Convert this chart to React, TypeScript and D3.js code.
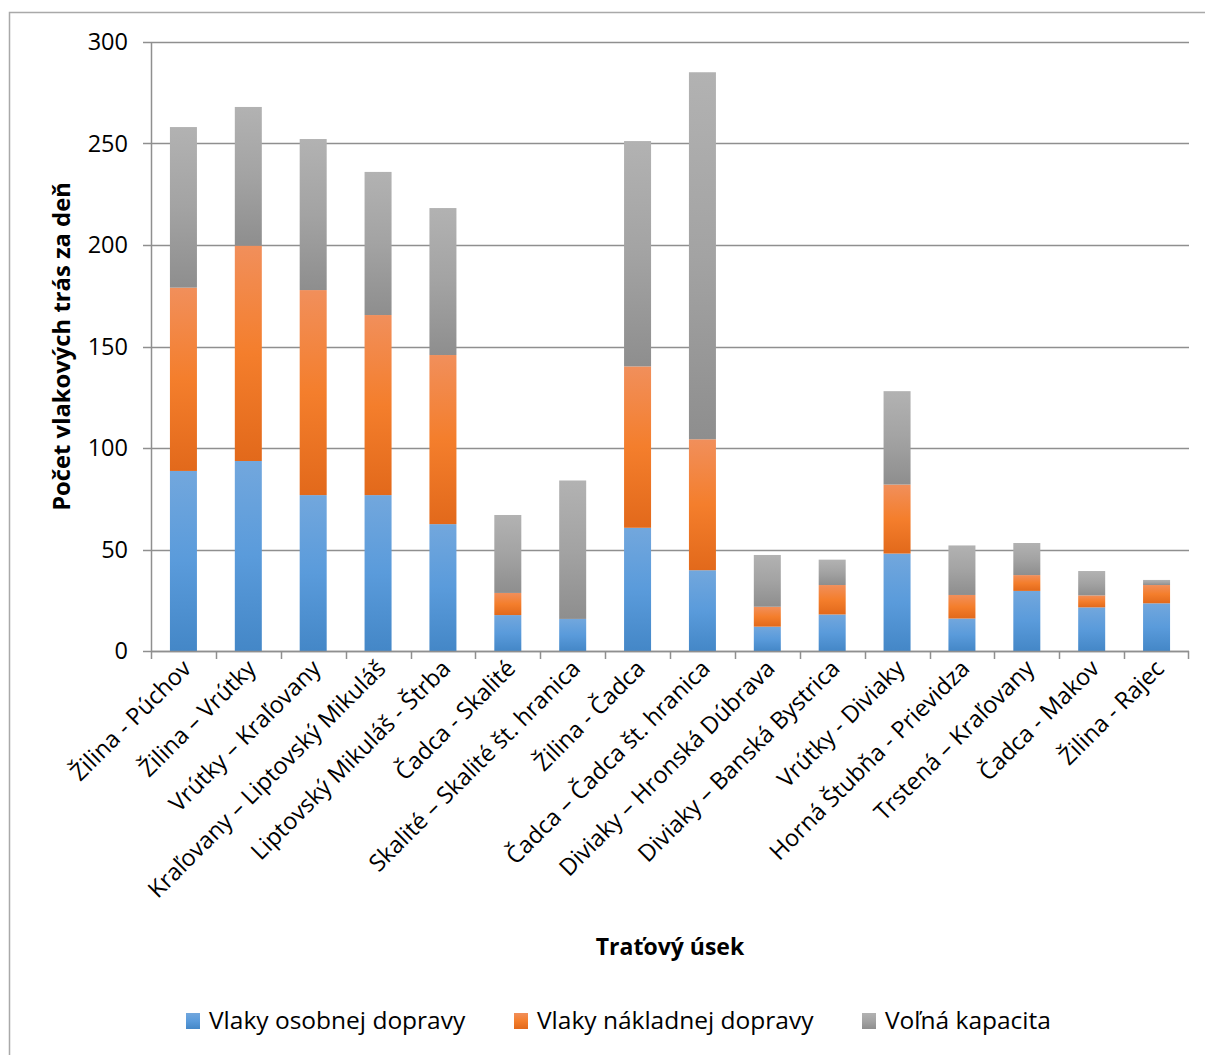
import React from "react";
import * as d3 from "d3";

const categories = [
  "Žilina - Púchov",
  "Žilina – Vrútky",
  "Vrútky – Kraľovany",
  "Kraľovany – Liptovský Mikuláš",
  "Liptovský Mikuláš - Štrba",
  "Čadca - Skalité",
  "Skalité – Skalité št. hranica",
  "Žilina - Čadca",
  "Čadca – Čadca št. hranica",
  "Diviaky – Hronská Dúbrava",
  "Diviaky – Banská Bystrica",
  "Vrútky - Diviaky",
  "Horná Štubňa - Prievidza",
  "Trstená – Kraľovany",
  "Čadca - Makov",
  "Žilina - Rajec",
];

const passenger = [88.7, 93.6, 76.8, 76.8, 62.5, 17.7, 15.8, 60.7, 39.8, 12, 18, 48, 16, 29.6, 21.5, 23.5];
const freight = [90.3, 106.1, 101, 88.7, 83.3, 10.9, 0, 79.5, 64.5, 9.8, 14.5, 34, 11.6, 7.8, 5.9, 9];
const free = [79.1, 68.3, 74.4, 70.5, 72.4, 38.4, 68.2, 111, 180.8, 25.5, 12.5, 46, 24.4, 15.8, 12, 2.5];

const seriesNames = ["Vlaky osobnej dopravy", "Vlaky nákladnej dopravy", "Voľná kapacita"];
const yTicks = [0, 50, 100, 150, 200, 250, 300];

const FONT = "'Open Sans', sans-serif";

export default function App() {
  const W = 1205;
  const H = 1055;
  const left = 151;
  const right = 1189;
  const top = 42;
  const bottom = 651;

  const rows = categories.map((c, i) => ({
    cat: c,
    s0: passenger[i],
    s1: freight[i],
    s2: free[i],
  }));
  const stack = d3.stack<any>().keys(["s0", "s1", "s2"]);
  const stacked = stack(rows);

  const y = d3.scaleLinear().domain([0, 300]).range([bottom, top]);
  const step = (right - left) / categories.length;
  const p = 1 - 27 / step;
  const x = d3
    .scaleBand()
    .domain(categories)
    .range([left, right])
    .paddingInner(p)
    .paddingOuter(p / 2);
  const xb = d3.scaleBand().domain(categories).range([left, right]).padding(0);

  const gradIds = ["gBlue", "gOrange", "gGray"];
  const legendX = [186, 514, 862];

  return (
    <svg
      width={W}
      height={H}
      style={{ position: "absolute", left: 0, top: 0, background: "#fff" }}
      fontFamily={FONT}
    >
      <defs>
        <linearGradient id="gBlue" x1="0" y1="0" x2="0" y2="1">
          <stop offset="0" stopColor="#72a7dd" />
          <stop offset="0.5" stopColor="#5a9bdb" />
          <stop offset="1" stopColor="#4487c7" />
        </linearGradient>
        <linearGradient id="gOrange" x1="0" y1="0" x2="0" y2="1">
          <stop offset="0" stopColor="#f18f5b" />
          <stop offset="0.5" stopColor="#f47e2c" />
          <stop offset="1" stopColor="#e2691b" />
        </linearGradient>
        <linearGradient id="gGray" x1="0" y1="0" x2="0" y2="1">
          <stop offset="0" stopColor="#b2b2b2" />
          <stop offset="0.5" stopColor="#a3a3a3" />
          <stop offset="1" stopColor="#8e8e8e" />
        </linearGradient>
      </defs>
      <rect x={9.5} y={12.5} width={1210} height={1060} fill="none" stroke="#a9a9a9" strokeWidth={1.5} />

      {/* gridlines */}
      {yTicks.map((t) => (
        <line
          key={"g" + t}
          x1={143}
          x2={right}
          y1={Math.round(y(t)) + 0.5}
          y2={Math.round(y(t)) + 0.5}
          stroke="#8f8f8f"
          strokeWidth={1.5}
        />
      ))}
      {/* y axis */}
      <line x1={left + 0.5} x2={left + 0.5} y1={top} y2={bottom} stroke="#8f8f8f" strokeWidth={1.5} />
      {yTicks.map((t) => (
        <text
          key={"yt" + t}
          x={128}
          y={y(t)}
          dy="0.35em"
          textAnchor="end"
          fontSize={23.5}
          fill="#000"
        >
          {t}
        </text>
      ))}

      {/* bars */}
      {stacked.map((s, si) => (
        <g key={"s" + si}>
          {s.map((d: any, i: number) =>
            d[1] - d[0] > 0 ? (
              <rect
                key={i}
                x={x(categories[i])}
                width={x.bandwidth()}
                y={y(d[1])}
                height={y(d[0]) - y(d[1])}
                fill={`url(#${gradIds[si]})`}
              />
            ) : null
          )}
        </g>
      ))}

      {/* x axis */}
      <line x1={left} x2={right} y1={bottom + 0.5} y2={bottom + 0.5} stroke="#8f8f8f" strokeWidth={1.5} />
      {categories.map((c, i) => (
        <line
          key={"xt" + i}
          x1={Math.round(xb(c)!) + 0.5}
          x2={Math.round(xb(c)!) + 0.5}
          y1={bottom}
          y2={bottom + 8}
          stroke="#8f8f8f"
          strokeWidth={1.5}
        />
      ))}
      <line x1={right - 0.5} x2={right - 0.5} y1={bottom} y2={bottom + 8} stroke="#8f8f8f" strokeWidth={1.5} />

      {categories.map((c) => {
        const cx = xb(c)! + step / 2 + 9;
        const cy = bottom + 19;
        return (
          <text
            key={"xl" + c}
            transform={`translate(${cx},${cy}) rotate(-45)`}
            textAnchor="end"
            fontSize={23.5}
            fill="#000"
          >
            {c}
          </text>
        );
      })}

      {/* axis titles */}
      <text
        transform={`translate(70,${(top + bottom) / 2}) rotate(-90)`}
        textAnchor="middle"
        fontSize={23.8}
        fontWeight="bold"
        fill="#000"
      >
        Počet vlakových trás za deň
      </text>
      <text x={(left + right) / 2} y={955} textAnchor="middle" fontSize={23} fontWeight="bold" fill="#000">
        Traťový úsek
      </text>

      {/* legend */}
      {seriesNames.map((n, i) => (
        <g key={"lg" + i}>
          <rect x={legendX[i]} y={1013} width={14} height={16} fill={`url(#${gradIds[i]})`} />
          <text x={legendX[i] + 23} y={1029} fontSize={24.5} fill="#000">
            {n}
          </text>
        </g>
      ))}
    </svg>
  );
}
